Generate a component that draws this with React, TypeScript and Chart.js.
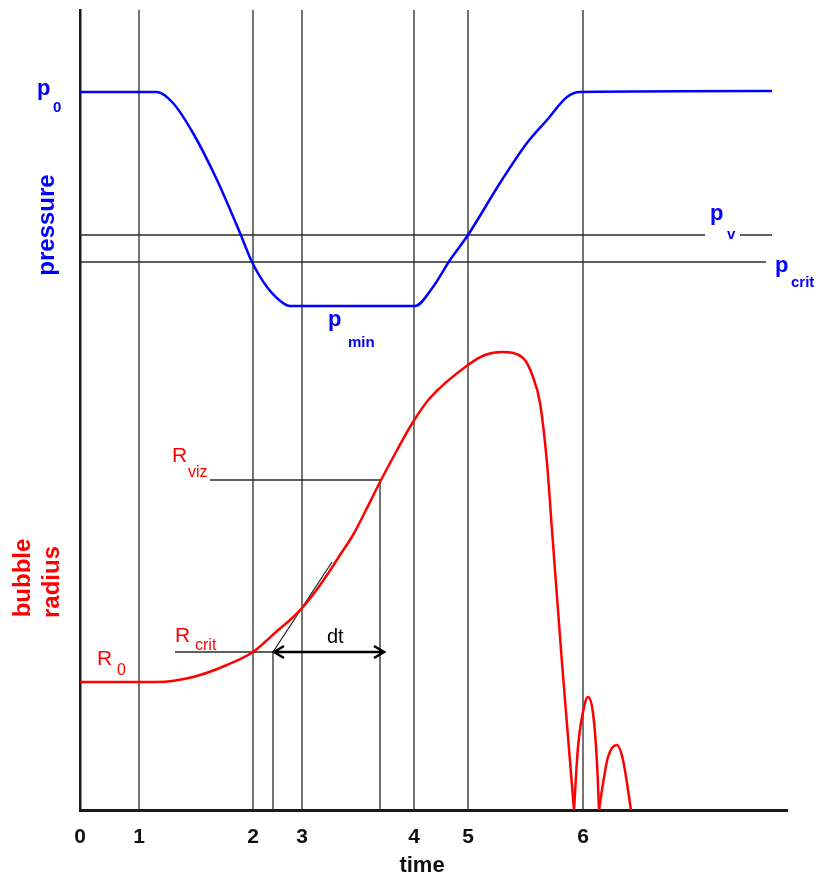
import React, { useEffect, useRef } from "react";
import { Chart, registerables } from "chart.js";

Chart.register(...registerables);

// ---- tick marks on the time axis ----
const tickPositions = [0, 59, 173, 222, 334, 388, 503];
const tickLabels = ["0", "1", "2", "3", "4", "5", "6"];

// ---- pressure curve ----
const pressureTime = [0, 77, 93, 113, 137, 160, 172, 187, 203, 210, 335, 353, 370, 388, 420, 447, 467, 487, 500, 692];
const pressureValue = [718, 718, 707, 677, 630, 577, 548, 523, 507, 504, 504, 523, 550, 575, 627, 667, 690, 713, 718, 719];

// ---- bubble radius curve ----
const radiusTime = [0, 77, 113, 147, 173, 185, 197, 210, 222, 235, 247, 260, 273, 286, 300, 316, 333, 350, 388, 405, 422, 443, 453, 460, 467, 472, 482, 494];
const radiusValue = [128, 128, 133, 145, 158, 168, 179, 190, 202, 218, 235, 255, 275, 300, 328, 358, 388, 412, 445, 455, 458, 452, 433, 407, 347, 280, 147, 0];
const rebound1Time = [494, 498, 505, 508, 513, 517, 519];
const rebound1Value = [0, 63, 107, 113, 97, 47, 0];
const rebound2Time = [519, 522, 528, 537, 543, 551];
const rebound2Value = [0, 20, 53, 65, 50, 0];

// ---- reference levels ----
const P_V = 575;
const P_CRIT = 548;
const R_VIZ = 330;
const R_CRIT = 158;
const T_CRIT = 193;
const T_VIZ = 300;
const T_ARROW_END = 305;
const TANGENT_END = [252, 248];
const X_MAX = 707;
const Y_MAX = 800;

const FONT = '"Liberation Sans", Arial, sans-serif';
const BLUE = "#0000ff";
const RED = "#ff0000";
const LINE = "#2a2a2a";

const pts = (xs: number[], ys: number[]) => xs.map((x, i) => ({ x, y: ys[i] }));

const segments = (segs: number[][]) => {
  const out: any[] = [];
  segs.forEach(([x1, y1, x2, y2]) => {
    out.push({ x: x1, y: y1 }, { x: x2, y: y2 }, { x: x2, y: null });
  });
  return out;
};

const annotations = {
  id: "annotations",
  afterDatasetsDraw(chart: any) {
    const { ctx, scales } = chart;
    const xs = scales.x;
    const ys = scales.y;
    const px = (v: number) => xs.getPixelForValue(v);
    const py = (v: number) => ys.getPixelForValue(v);
    ctx.save();

    // dt double arrow
    const ay = py(R_CRIT);
    const ax0 = px(T_CRIT);
    const ax1 = px(T_ARROW_END);
    ctx.strokeStyle = "#000";
    ctx.lineWidth = 2.5;
    ctx.beginPath();
    ctx.moveTo(ax0, ay);
    ctx.lineTo(ax1, ay);
    ctx.moveTo(ax0 + 11, ay - 6);
    ctx.lineTo(ax0 + 1, ay);
    ctx.lineTo(ax0 + 11, ay + 6);
    ctx.moveTo(ax1 - 11, ay - 6);
    ctx.lineTo(ax1 - 1, ay);
    ctx.lineTo(ax1 - 11, ay + 6);
    ctx.stroke();

    const text = (t: string, x: number, y: number, color: string, font: string) => {
      ctx.fillStyle = color;
      ctx.font = font;
      ctx.textAlign = "left";
      ctx.textBaseline = "alphabetic";
      ctx.fillText(t, px(x), py(y));
    };
    const rotated = (t: string, x: number, y: number, color: string, font: string) => {
      ctx.save();
      ctx.translate(px(x), py(y));
      ctx.rotate(-Math.PI / 2);
      ctx.fillStyle = color;
      ctx.font = font;
      ctx.textAlign = "center";
      ctx.textBaseline = "middle";
      ctx.fillText(t, 0, 0);
      ctx.restore();
    };

    const bMain = `bold 22px ${FONT}`;
    const bSub = `bold 15px ${FONT}`;
    text("p", -43, 715, BLUE, bMain);
    text("0", -27, 698, BLUE, bSub);
    text("p", 630, 590, BLUE, bMain);
    text("v", 647, 571, BLUE, bSub);
    text("p", 695, 538, BLUE, bMain);
    text("crit", 711, 523, BLUE, bSub);
    text("p", 248, 484, BLUE, bMain);
    text("min", 268, 463, BLUE, bSub);
    rotated("pressure", -33, 585, BLUE, `bold 24px ${FONT}`);

    const rMain = `21px ${FONT}`;
    const rSub = `16px ${FONT}`;
    text("R", 92, 348, RED, rMain);
    text("viz", 108, 333, RED, rSub);
    text("R", 95, 168, RED, rMain);
    text("crit", 115, 160, RED, rSub);
    text("R", 17, 145, RED, rMain);
    text("0", 37, 135, RED, rSub);
    rotated("bubble", -57, 232, RED, `bold 24px ${FONT}`);
    rotated("radius", -28, 228, RED, `bold 24px ${FONT}`);

    text("dt", 247, 167, "#000", `20px ${FONT}`);

    ctx.fillStyle = "#111";
    ctx.font = `bold 22px ${FONT}`;
    ctx.textAlign = "center";
    ctx.textBaseline = "alphabetic";
    ctx.fillText("time", px(342), py(-62));

    ctx.restore();
  },
};

export default function App() {
  const ref = useRef<HTMLCanvasElement | null>(null);

  useEffect(() => {
    if (!ref.current) return;

    const eventLines = segments(tickPositions.slice(1).map((t) => [t, 0, t, Y_MAX]));
    const levelLines = segments([
      [0, P_V, 625, P_V],
      [660, P_V, 692, P_V],
      [0, P_CRIT, 686, P_CRIT],
      [130, R_VIZ, T_VIZ, R_VIZ],
      [95, R_CRIT, T_CRIT, R_CRIT],
      [T_CRIT, 0, T_CRIT, R_CRIT],
      [T_VIZ, 0, T_VIZ, R_VIZ],
      [T_CRIT, R_CRIT, TANGENT_END[0], TANGENT_END[1]],
    ]);

    const curve = (data: any[], color: string) => ({
      data,
      borderColor: color,
      borderWidth: 2.5,
      pointRadius: 0,
      cubicInterpolationMode: "monotone" as const,
      order: 0,
      spanGaps: false,
    });

    const chart = new Chart(ref.current, {
      type: "line",
      data: {
        datasets: [
          { data: eventLines, borderColor: LINE, borderWidth: 1.3, pointRadius: 0, tension: 0, spanGaps: false, order: 2 },
          { data: levelLines, borderColor: LINE, borderWidth: 1.3, pointRadius: 0, tension: 0, spanGaps: false, order: 1 },
          curve(pts(pressureTime, pressureValue), BLUE),
          curve(pts(radiusTime, radiusValue), RED),
          curve(pts(rebound1Time, rebound1Value), RED),
          curve(pts(rebound2Time, rebound2Value), RED),
        ],
      },
      options: {
        animation: false,
        responsive: false,
        devicePixelRatio: 1,
        events: [],
        layout: { padding: { left: 80, right: 33, top: 10, bottom: 0 } },
        plugins: { legend: { display: false }, tooltip: { enabled: false } },
        scales: {
          x: {
            type: "linear",
            min: 0,
            max: X_MAX,
            afterBuildTicks: (scale: any) => {
              scale.ticks = tickPositions.map((v) => ({ value: v }));
            },
            afterFit: (scale: any) => {
              scale.height = 66;
            },
            ticks: {
              autoSkip: false,
              maxRotation: 0,
              padding: 15,
              color: "#111",
              font: { family: FONT, size: 21, weight: "bold" },
              callback: (v: any) => {
                const i = tickPositions.indexOf(Number(v));
                return i >= 0 ? tickLabels[i] : "";
              },
            },
            grid: { display: false, drawTicks: false },
            border: { display: true, color: "#1a1a1a", width: 3 },
          },
          y: {
            type: "linear",
            min: 0,
            max: Y_MAX,
            afterFit: (scale: any) => {
              scale.width = 0;
            },
            ticks: { display: false },
            grid: { display: false, drawTicks: false },
            border: { display: true, color: "#1a1a1a", width: 2.5 },
          },
        },
      },
      plugins: [annotations],
    });

    return () => chart.destroy();
  }, []);

  return (
    <div style={{ position: "absolute", left: 0, top: 0, width: 820, height: 876, background: "#fff" }}>
      <canvas ref={ref} width={820} height={876} style={{ display: "block" }} />
    </div>
  );
}
